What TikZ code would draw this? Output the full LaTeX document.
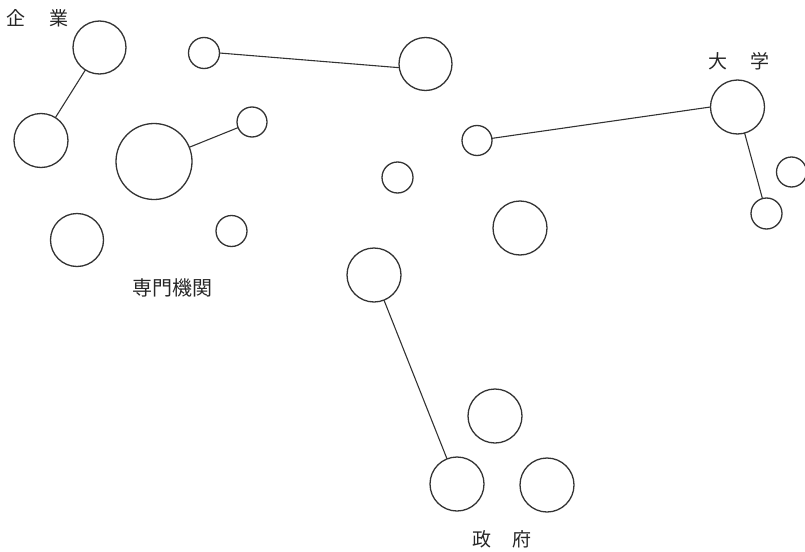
\documentclass[tikz,border=0pt]{standalone}
\usepackage{fontspec}
\newfontfamily\jp{Noto Sans CJK JP}
\begin{document}
\begin{tikzpicture}[x=1pt,y=-1pt,
  ring/.style={circle,draw=black!80,line width=1.3pt,inner sep=0pt,outer sep=0pt,minimum size=#1},
  link/.style={draw=black!80,line width=1.1pt},
  lbl/.style={font=\jp\fontsize{19}{19}\selectfont,text=black!85,inner sep=0pt}]
\useasboundingbox (0,0) rectangle (805,551);
% circles
\node[ring=53pt] (A) at (99.5,47.5) {};
\node[ring=54pt] (B) at (41,140.5) {};
\node[ring=76pt] (C) at (154,161.5) {};
\node[ring=30pt] (D) at (252,122) {};
\node[ring=31pt] (E) at (204,53) {};
\node[ring=53pt] (F) at (77,240) {};
\node[ring=31pt] (G) at (231.5,231) {};
\node[ring=53pt] (H) at (425.5,64) {};
\node[ring=30pt] (I) at (477,140.5) {};
\node[ring=31pt] (J) at (397.5,177.5) {};
\node[ring=54pt] (K) at (520,228) {};
\node[ring=54pt] (L) at (737.5,107) {};
\node[ring=31pt] (M) at (766.5,213.5) {};
\node[ring=30pt] (N) at (791.5,172) {};
\node[ring=54pt] (O) at (374,275) {};
\node[ring=54pt] (P) at (495,416) {};
\node[ring=54pt] (Q) at (457,484) {};
\node[ring=54pt] (R) at (547,485) {};
% links
\draw[link] (A) -- (B);
\draw[link] (C) -- (D);
\draw[link] (E.east) -- (H.188);
\draw[link] (I) -- (L.west);
\draw[link] (L) -- (M);
\draw[link] (O) -- (Q);
% labels
\node[lbl] (t1) at (16,18) {企};
\node[lbl] (t2) at (59,18) {業};
\node[lbl] (t3) at (718,61) {大};
\node[lbl] (t4) at (760,61) {学};
\node[lbl,font=\jp\fontsize{20}{20}\selectfont] (t5) at (172,288) {専門機関};
\node[lbl] (t6) at (482,539) {政};
\node[lbl] (t7) at (522,539) {府};
\end{tikzpicture}
\end{document}
